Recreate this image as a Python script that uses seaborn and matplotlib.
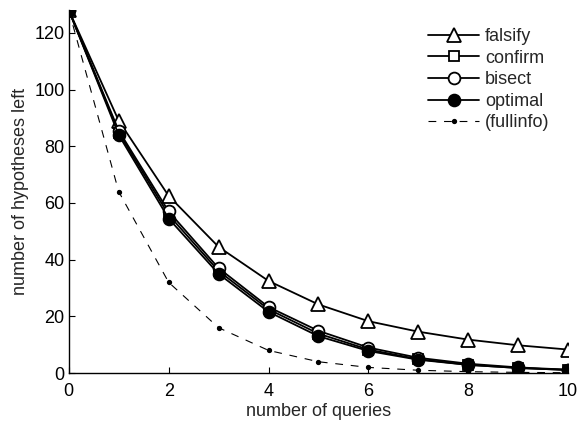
import matplotlib
matplotlib.use("Agg")
import matplotlib.pyplot as plt
import seaborn as sns
import pandas as pd

queries = list(range(11))
falsify = [128, 89, 62.5, 44.5, 32.5, 24.2, 18.3, 14.6, 11.8, 9.8, 8.3]
confirm = [128, 84.8, 55.8, 36.0, 22.5, 13.9, 8.3, 4.9, 2.9, 1.8, 1.1]
bisect = [128, 85.5, 57.0, 37.0, 23.3, 14.9, 9.0, 5.4, 3.3, 2.0, 1.2]
optimal = [128, 84.0, 54.5, 35.0, 21.6, 13.0, 7.8, 4.7, 2.9, 1.8, 1.1]
fullinfo = [128, 64, 32, 16, 8, 4, 2, 1, 0.5, 0.25, 0.125]

sns.set_style("ticks")
plt.rcParams['font.family'] = ['Liberation Sans', 'DejaVu Sans']

fig = plt.figure(figsize=(5.78, 4.23), dpi=100)
ax = fig.add_axes([0.119, 0.118, 0.864, 0.858])

series = [
    ("falsify", falsify, dict(marker="^", markersize=10, markerfacecolor="white", linestyle="-")),
    ("confirm", confirm, dict(marker="s", markersize=7.5, markerfacecolor="white", linestyle="-")),
    ("bisect", bisect, dict(marker="o", markersize=8.5, markerfacecolor="white", linestyle="-")),
    ("optimal", optimal, dict(marker="o", markersize=8.5, markerfacecolor="black", linestyle="-")),
    ("(fullinfo)", fullinfo, dict(marker="o", markersize=2.5, markerfacecolor="black", linestyle=(0, (7, 7)), linewidth=0.8)),
]
for name, vals, kw in series:
    df = pd.DataFrame({"q": queries, "v": vals})
    lw = kw.pop("linewidth", 1.3)
    sns.lineplot(data=df, x="q", y="v", ax=ax, color="black", label=name,
                 markeredgecolor="black", markeredgewidth=1.3, linewidth=lw, **kw)

ax.set_xlim(0, 10)
ax.set_ylim(0, 128)
ax.set_xticks([0, 2, 4, 6, 8, 10])
ax.set_yticks([0, 20, 40, 60, 80, 100, 120])
ax.tick_params(direction="in", length=4, labelsize=13, colors="black", pad=3)
ax.tick_params(axis="x", pad=7)
for s in ["top", "right"]:
    ax.spines[s].set_visible(False)
for s in ["left", "bottom"]:
    ax.spines[s].set_color("black")
    ax.spines[s].set_linewidth(1.0)
ax.set_xlabel("number of queries", fontsize=13, labelpad=2)
ax.set_ylabel("number of hypotheses left", fontsize=13, labelpad=4)
leg = ax.legend(loc="upper left", frameon=False, fontsize=13, handlelength=2.8,
                handletextpad=0.35, labelspacing=0.25, borderpad=0, borderaxespad=0,
                bbox_to_anchor=(0.72, 0.95))
fig.savefig("out.png", dpi=100)
